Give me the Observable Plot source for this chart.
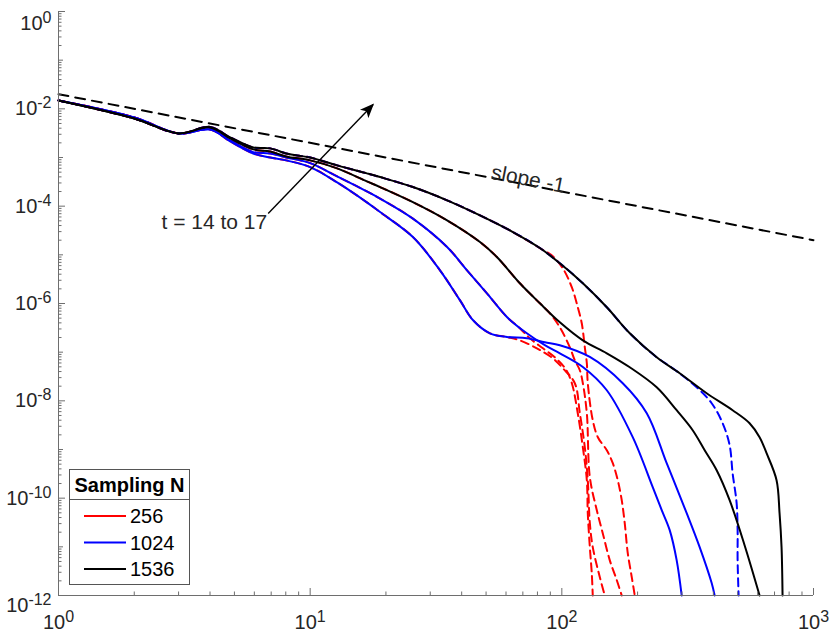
<!DOCTYPE html>
<html>
<head>
<meta charset="utf-8">
<script src="https://cdn.jsdelivr.net/npm/d3@7"></script>
<script src="https://cdn.jsdelivr.net/npm/@observablehq/plot@0.6"></script>
<style>
  body { margin: 0; background: #fff; }
  #chart { width: 830px; height: 632px; }
</style>
</head>
<body>
<div id="chart"></div>
<script>
// ---------- data ----------
const sampling = ["256", "1024", "1536"];
const samplingColor = ["#ff0000", "#0000ff", "#000000"];

// N = 1536, t = 17 (black, upper)
const n1536t17X = [1,2,3,4,4.81,5.94,6.94,8.03,8.88,10,12.8,16.8,18.96,25.6,35.0,47.3,63.9,81.8,98.2,121.2,150.9,186.2,238.2,293.9,376.3,477.1,557.2,610.6,650.9,713.2,733.0,746.5,753.4];
const n1536t17Y = [1.49e-2,6.35e-3,3.13e-3,4.25e-3,2.59e-3,1.61e-3,1.54e-3,1.21e-3,1.10e-3,1.00e-3,6.88e-4,4.72e-4,3.96e-4,2.47e-4,1.32e-4,6.47e-5,2.94e-5,1.38e-5,6.7e-6,2.60e-6,8.36e-7,2.44e-7,7.86e-8,3.69e-8,1.43e-8,6.41e-9,3.47e-9,1.79e-9,8.39e-10,2.34e-10,4.92e-11,9.86e-12,1e-12];

// N = 1536, t = 16 (black, lower)
const n1536t16X = [1,2,3,4,4.81,5.94,6.94,8.03,10,12.8,16.8,18.96,25.6,35.0,47.3,55.2,68.1,81.8,98.2,121.2,150.9,186.2,238.2,285.9,331.1,369.5,412.3,464.2,532.3,610.6];
const n1536t16Y = [1.49e-2,6.35e-3,3.13e-3,4.15e-3,2.47e-3,1.47e-3,1.33e-3,1.05e-3,8.72e-4,5.97e-4,3.23e-4,2.47e-4,1.21e-4,5.11e-5,1.83e-5,9.01e-6,2.60e-6,1.01e-6,4.11e-7,1.75e-7,9.49e-8,4.90e-8,1.90e-8,6.41e-9,2.49e-9,9.67e-10,3.76e-10,9.10e-11,1.08e-11,1e-12];

// N = 1024, t = 15 (blue solid)
const n1024t15X = [1,2,3,4,4.81,5.94,6.94,8.03,10,12.8,16.8,18.96,25.6,35.0,42.0,50.4,60.5,72.6,85.6,98.2,121.2,150.9,191.3,229.7,249.4,268.3,285.9,299.4];
const n1024t15Y = [1.49e-2,6.66e-3,3.13e-3,3.78e-3,2.24e-3,1.29e-3,1.21e-3,1.00e-3,7.67e-4,4.09e-4,2.01e-4,1.43e-4,5.54e-5,1.45e-5,4.81e-6,1.62e-6,5.28e-7,2.44e-7,1.39e-7,9.49e-8,4.97e-8,1.65e-8,1.79e-9,1.68e-10,5.67e-11,2.20e-11,5.33e-12,1e-12];

// N = 1024, t = 14 (blue solid)
const n1024t14X = [1,2,3,4,4.81,5.94,6.94,8.03,10,12.8,16.8,18.96,25.6,32.8,39.4,44.4,51.8,60.5,72.6,85.6,98.2,129.2,174.6,217.5,261.0,313.4,352.9,393.9,404.8];
const n1024t14Y = [1.49e-2,6.66e-3,3.13e-3,3.78e-3,2.14e-3,1.21e-3,1.00e-3,8.72e-4,6.35e-4,3.08e-4,1.20e-4,7.57e-5,2.32e-5,4.81e-6,1.16e-6,4.52e-7,2.44e-7,2.05e-7,1.93e-7,1.60e-7,1.39e-7,7.97e-8,2.30e-8,5.56e-9,5.23e-10,4.92e-11,9.86e-12,1.80e-12,1e-12];

// N = 1024, t = 17 (blue dashed): follows N=1536 t=17 up to x = 238, then
const n1024t17TailX = [275.8,343.5,393.9,435.5,464.2,477.1,494.9,499.4,499.4,504.0];
const n1024t17TailY = [4.67e-8,1.90e-8,8.93e-9,3.47e-9,1.23e-9,3.26e-10,7.90e-11,2.20e-11,5.33e-12,1e-12];

// N = 256 (red dashed), tails after they leave the finer curves
const n256t17TailX = [92.1,100.9,109.6,115.7,120.0,123.4,125.7,126.8,132.7,139.0,150.9,159.4,166.8,173.0,177.8,182.8,189.6,194.9];
const n256t17TailY = [9.31e-6,5.28e-6,2.15e-6,8.36e-7,3.92e-7,1.26e-7,5.92e-8,2.30e-8,4.00e-9,1.79e-9,9.67e-10,5.23e-10,2.34e-10,9.10e-11,3.07e-11,7.42e-12,2.39e-12,1e-12];
const n256t16TailX = [89.6,98.2,107.6,112.6,117.9,121.2,125.7,129.2,137.7,145.4,155.0,165.3,173.0];
const n256t16TailY = [6.29e-7,3.24e-7,1.26e-7,6.82e-8,4.25e-8,2.30e-8,5.56e-9,2.70e-10,5.67e-11,1.91e-11,5.33e-12,2.07e-12,1e-12];
const n256t15TailX = [68.1,74.6,84.1,94.7,103.7,109.6,115.7,121.2,125.7,126.8,129.2,131.5,132.7];
const n256t15TailY = [3.10e-7,1.93e-7,1.20e-7,7.49e-8,4.45e-8,2.30e-8,5.56e-9,1.11e-9,2.34e-10,4.92e-11,9.86e-12,2.88e-12,1e-12];
const n256t14TailX = [68.1,79.6,92.1,100.9,112.6,117.9,123.4,126.8,129.2,132.7,141.5,148.1];
const n256t14TailY = [1.75e-7,1.20e-7,7.49e-8,4.67e-8,2.30e-8,5.56e-9,1.11e-9,2.34e-10,3.07e-11,9.86e-12,2.39e-12,1e-12];

// slope -1 reference line
const slopeX = [1, 1000];
const slopeY = [2e-2, 2e-5];

// annotation
const arrowFrom = {x: 6.81, y: 7.1e-5};
const arrowTo = {x: 17.8, y: 1.23e-2};
const tLabel = {x: 6.75, y: 4.65e-5, text: "t = 14 to 17"};
const slopeLabel = {x: 72.6, y: 2.75e-4, text: "slope -1"};

// ticks
const yMajor = [1, 1e-2, 1e-4, 1e-6, 1e-8, 1e-10, 1e-12];
const yOdd = [1e-1, 1e-3, 1e-5, 1e-7, 1e-9, 1e-11];
const xMajor = [1, 10, 100, 1000];
const mult = [2,3,4,5,6,7,8,9];
const yMinor = d3.range(-12, 0).flatMap(e => mult.map(k => k * Math.pow(10, e)));
const xMinor = d3.range(0, 3).flatMap(e => mult.map(k => k * Math.pow(10, e)));

// ---------- build series ----------
function pts(xs, ys) { return xs.map((x, i) => ({x, y: ys[i]})); }
function withHead(hx, hy, n, tx, ty) { return pts(hx.slice(0, n).concat(tx), hy.slice(0, n).concat(ty)); }

const s1536t17 = pts(n1536t17X, n1536t17Y);
const s1536t16 = pts(n1536t16X, n1536t16Y);
const s1024t15 = pts(n1024t15X, n1024t15Y);
const s1024t14 = pts(n1024t14X, n1024t14Y);
const s1024t17 = withHead(n1536t17X, n1536t17Y, 23, n1024t17TailX, n1024t17TailY);
const s256t17 = withHead(n1536t17X, n1536t17Y, 18, n256t17TailX, n256t17TailY);
const s256t16 = withHead(n1536t16X, n1536t16Y, 18, n256t16TailX, n256t16TailY);
const s256t15 = withHead(n1024t15X, n1024t15Y, 17, n256t15TailX, n256t15TailY);
const s256t14 = withHead(n1024t14X, n1024t14Y, 18, n256t14TailX, n256t14TailY);

const FONT = "'Liberation Sans', Arial, Helvetica, sans-serif";
const AX = "#6e6e6e";
const TXT = "#262626";
const expFmt = d => "10^" + Math.round(Math.log10(d));

const red = samplingColor[0], blue = samplingColor[1], black = samplingColor[2];
const CURVE = "catmull-rom";
const dashOpts = {strokeWidth: 2, strokeDasharray: "8,5", curve: CURVE};
const solidOpts = {strokeWidth: 2, curve: CURVE};

const chart = Plot.plot({
  width: 830,
  height: 632,
  marginLeft: 58,
  marginRight: 17,
  marginTop: 11,
  marginBottom: 37,
  style: {fontFamily: FONT, fontSize: "20px", background: "white", overflow: "visible"},
  x: {type: "log", domain: [1, 1000]},
  y: {type: "log", domain: [1e-12, 1]},
  marks: [
    Plot.line(s256t14, {x: "x", y: "y", stroke: red, ...dashOpts}),
    Plot.line(s256t15, {x: "x", y: "y", stroke: red, ...dashOpts}),
    Plot.line(s256t16, {x: "x", y: "y", stroke: red, ...dashOpts}),
    Plot.line(s256t17, {x: "x", y: "y", stroke: red, ...dashOpts}),
    Plot.line(s1024t17, {x: "x", y: "y", stroke: blue, ...dashOpts}),
    Plot.line(s1024t14, {x: "x", y: "y", stroke: blue, ...solidOpts}),
    Plot.line(s1024t15, {x: "x", y: "y", stroke: blue, ...solidOpts}),
    Plot.line(s1536t16, {x: "x", y: "y", stroke: black, ...solidOpts}),
    Plot.line(s1536t17, {x: "x", y: "y", stroke: black, ...solidOpts}),
    Plot.line(pts(slopeX, slopeY), {x: "x", y: "y", stroke: "black", strokeWidth: 2, strokeDasharray: "10,7"}),
    Plot.link([{}], {x1: () => arrowFrom.x, y1: () => arrowFrom.y, x2: () => arrowTo.x, y2: () => arrowTo.y, stroke: "black", strokeWidth: 1.4}),
    Plot.text([tLabel], {x: "x", y: "y", text: "text", textAnchor: "end", fontSize: 21, fill: TXT, fontFamily: FONT}),
    Plot.text([slopeLabel], {x: "x", y: "y", text: "text", textAnchor: "middle", lineAnchor: "bottom", rotate: 10.9, dy: 1, fontSize: 21, fill: TXT, fontFamily: FONT}),
    // axes
    Plot.ruleX([1], {stroke: AX, strokeWidth: 1}),
    Plot.ruleY([1e-12], {stroke: AX, strokeWidth: 1}),
    Plot.axisY(yMajor, {anchor: "left", tickSize: -7, tickPadding: 14, tickFormat: expFmt, label: null, stroke: AX, fill: TXT, fontSize: 20}),
    Plot.axisY(yOdd, {anchor: "left", tickSize: -5, tickFormat: () => "", label: null, stroke: AX}),
    Plot.axisY(yMinor, {anchor: "left", tickSize: -3.5, tickFormat: () => "", label: null, stroke: AX}),
    Plot.axisX(xMajor, {anchor: "bottom", tickSize: -7, tickPadding: 26, tickFormat: expFmt, label: null, stroke: AX, fill: TXT, fontSize: 20}),
    Plot.axisX(xMinor, {anchor: "bottom", tickSize: -3.5, tickFormat: () => "", label: null, stroke: AX})
  ]
});

document.getElementById("chart").appendChild(chart);
const svg = chart.tagName.toLowerCase() === "svg" ? chart : chart.querySelector("svg");

// superscript tick labels
svg.querySelectorAll('g[aria-label="y-axis tick label"] text, g[aria-label="x-axis tick label"] text').forEach(t => {
  const s = t.textContent;
  if (!s.includes("^")) return;
  const [base, exp] = s.split("^");
  while (t.firstChild) t.removeChild(t.firstChild);
  t.appendChild(document.createTextNode(base));
  const ts = document.createElementNS("http://www.w3.org/2000/svg", "tspan");
  ts.setAttribute("dy", "-7");
  ts.setAttribute("font-size", "16");
  ts.textContent = exp;
  t.appendChild(ts);
});
// keep the top and bottom y labels inside the figure, as the reference does
const yLabels = svg.querySelectorAll('g[aria-label="y-axis tick label"] text');
yLabels.forEach(t => {
  const s = t.textContent;
  if (s === "100") t.setAttribute("dy", "0.62em");
  if (s === "10-12") t.setAttribute("dy", "0.52em");
});

// filled arrow head
const root = d3.select(svg);
root.append("defs").append("marker")
  .attr("id", "ahead").attr("viewBox", "0 0 12 10").attr("refX", 11).attr("refY", 5)
  .attr("markerWidth", 15).attr("markerHeight", 12).attr("markerUnits", "userSpaceOnUse").attr("orient", "auto")
  .append("path").attr("d", "M0,0 L12,5 L0,10 L3,5 Z").attr("fill", "black");
root.selectAll('g[aria-label="link"] path').attr("marker-end", "url(#ahead)");

// legend box
const lg = root.append("g").attr("font-family", FONT).attr("fill", "black").attr("text-anchor", "start");
lg.append("rect").attr("x", 69.5).attr("y", 469.5).attr("width", 120).attr("height", 115)
  .attr("fill", "white").attr("stroke", "#555").attr("stroke-width", 1);
lg.append("text").attr("x", 129.5).attr("y", 492).attr("text-anchor", "middle")
  .attr("font-weight", "bold").attr("font-size", 20).text("Sampling N");
lg.append("line").attr("x1", 69.5).attr("x2", 189.5).attr("y1", 499.5).attr("y2", 499.5)
  .attr("stroke", "#555").attr("stroke-width", 1);
sampling.forEach((s, i) => {
  const yy = 516 + i * 26.5;
  lg.append("line").attr("x1", 84).attr("x2", 126).attr("y1", yy).attr("y2", yy)
    .attr("stroke", samplingColor[i]).attr("stroke-width", 2);
  lg.append("text").attr("x", 130).attr("y", yy + 7).attr("font-size", 20).attr("text-anchor", "start").text(s);
});
</script>
</body>
</html>
